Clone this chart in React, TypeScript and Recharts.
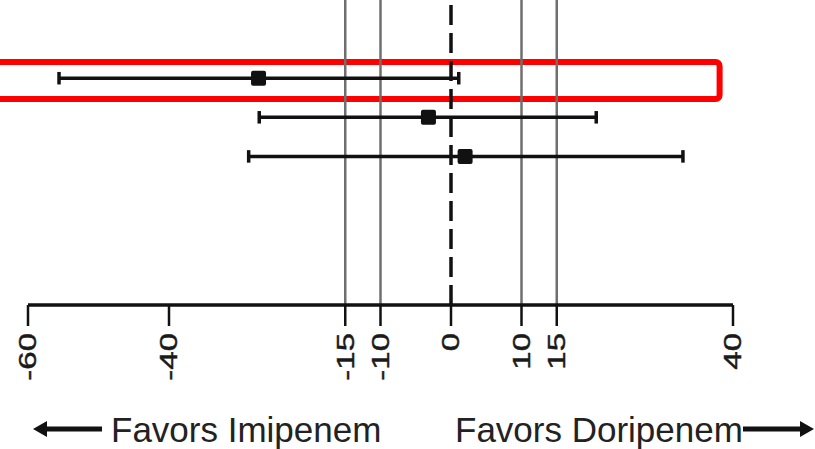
import {
  ScatterChart,
  Scatter,
  XAxis,
  YAxis,
  ReferenceLine,
  ReferenceArea,
  Label,
} from "recharts"

// row positions on the hidden y axis (top to bottom)
const rowPos = [2, 3, 4]
// treatment difference (%) with 95% CI
const estimates = [-27.3, -3.2, 2.0]
const lowerCI = [-55.6, -27.2, -28.7]
const upperCI = [1.1, 20.6, 32.9]

const xTicks = [-60, -40, -15, -10, 0, 10, 15, 40]
const marginLines = [-15, -10, 10, 15]
const highlightRow = 0

const FONT = "'Liberation Sans', Arial, sans-serif"
const INK = "#111"
const CAP = 0.16 // half cap height, in y units

const data = rowPos.map((y, i) => ({ y, x: estimates[i] }))

const SquareDot = (props: any) => {
  const { cx, cy } = props
  const s = 15
  return <rect x={cx - s / 2} y={cy - s / 2} width={s} height={s} rx={2} fill={INK} />
}

const RotatedTick = (props: any) => {
  const { x, y, payload } = props
  return (
    <g transform={`translate(${x},${y + 5})`}>
      <text
        transform="rotate(-90) scale(1,0.75)"
        textAnchor="end"
        dominantBaseline="central"
        fontSize={33}
        fontFamily={FONT}
        fill="#1a1a1a"
        stroke="#1a1a1a"
        strokeWidth={0.6}
      >
        {payload.value}
      </text>
    </g>
  )
}

const FavorsLabels = () => (
  <g fontFamily={FONT} fontSize={35} fill="#222">
    <line x1={44} y1={429} x2={102} y2={429} stroke={INK} strokeWidth={5} />
    <polygon points="33,429 47,421 47,437" fill={INK} />
    <text x={111} y={442}>Favors Imipenem</text>
    <text x={455} y={442}>Favors Doripenem</text>
    <line x1={743} y1={429} x2={802} y2={429} stroke={INK} strokeWidth={5} />
    <polygon points="814,429 800,421 800,437" fill={INK} />
  </g>
)

export default function App() {
  return (
    <div style={{ position: "absolute", left: 0, top: 0, width: 815, height: 449, background: "#fff" }}>
      <ScatterChart width={815} height={449} margin={{ top: 0, right: 82, bottom: 0, left: 28 }}>
        <XAxis
          type="number"
          dataKey="x"
          domain={[-60, 40]}
          allowDataOverflow
          ticks={xTicks}
          interval={0}
          height={144}
          tickSize={21}
          tickMargin={2}
          axisLine={{ stroke: INK, strokeWidth: 3.5 }}
          tickLine={{ stroke: INK, strokeWidth: 2.5 }}
          tick={<RotatedTick />}
        >
          <Label content={<FavorsLabels />} />
        </XAxis>
        <YAxis type="number" dataKey="y" domain={[0, 7.8]} reversed hide width={0} />
        {marginLines.map((v) => (
          <ReferenceLine key={v} x={v} stroke="#6f6f6f" strokeWidth={2.5} />
        ))}
        <ReferenceLine x={0} stroke={INK} strokeWidth={3.5} strokeDasharray="20 8" />
        {/* confidence intervals with end caps */}
        {rowPos.map((y, i) => (
          <ReferenceLine
            key={`ci-${i}`}
            segment={[{ x: lowerCI[i], y }, { x: upperCI[i], y }]}
            stroke={INK}
            strokeWidth={3.5}
          />
        ))}
        {rowPos.flatMap((y, i) =>
          [lowerCI[i], upperCI[i]].map((x, j) => (
            <ReferenceLine
              key={`cap-${i}-${j}`}
              segment={[{ x, y: y - CAP }, { x, y: y + CAP }]}
              stroke={INK}
              strokeWidth={3.5}
            />
          ))
        )}
        <Scatter data={data} shape={<SquareDot />} isAnimationActive={false} />
        <ReferenceArea
          x1={-66}
          x2={38.1}
          y1={rowPos[highlightRow] - 0.414}
          y2={rowPos[highlightRow] + 0.532}
          ifOverflow="visible"
          fill="none"
          stroke="#ff0000"
          strokeWidth={6}
          radius={4}
        />
      </ScatterChart>
    </div>
  )
}
